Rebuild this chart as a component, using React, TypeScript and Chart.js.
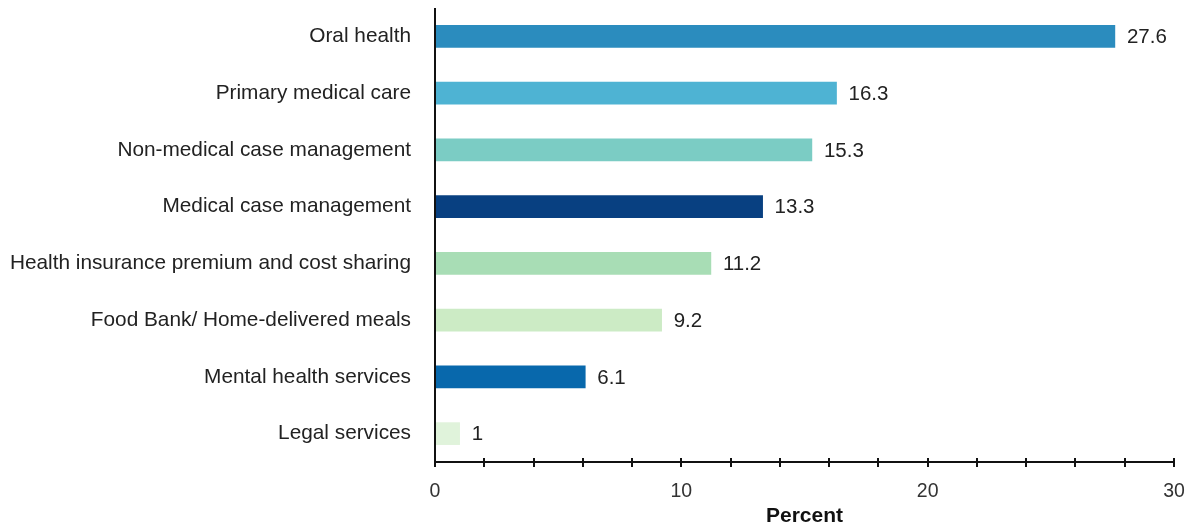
import React, { useEffect, useRef } from "react";
import { Chart, registerables } from "chart.js";

Chart.register(...registerables);

const categories = [
  "Oral health",
  "Primary medical care",
  "Non-medical case management",
  "Medical case management",
  "Health insurance premium and cost sharing",
  "Food Bank/ Home-delivered meals",
  "Mental health services",
  "Legal services",
];
const values = [27.6, 16.3, 15.3, 13.3, 11.2, 9.2, 6.1, 1];
const barColors = ["#2b8cbe", "#4eb3d3", "#7bccc4", "#084081", "#a8ddb5", "#ccebc5", "#0868ac", "#e0f3db"];
const xTickLabels = [0, 10, 20, 30];
const xAxisTitle = "Percent";

const FONT = "'Liberation Sans', Arial, sans-serif";

const valueLabelPlugin = {
  id: "valueLabels",
  afterDatasetsDraw(chart: any) {
    const ctx = chart.ctx;
    const meta = chart.getDatasetMeta(0);
    ctx.save();
    ctx.font = `20.5px ${FONT}`;
    ctx.fillStyle = "#222";
    ctx.textAlign = "left";
    ctx.textBaseline = "middle";
    meta.data.forEach((bar: any, i: number) => {
      ctx.fillText(String(values[i]), bar.x + 12, bar.y + 1);
    });
    ctx.restore();
  },
};

const axisPlugin = {
  id: "axisTicks",
  afterDraw(chart: any) {
    const ctx = chart.ctx;
    const xs = chart.scales.x;
    const area = chart.chartArea;
    ctx.save();
    ctx.strokeStyle = "#111";
    ctx.lineWidth = 2;
    ctx.beginPath();
    ctx.moveTo(area.left, area.top);
    ctx.lineTo(area.left, area.bottom);
    ctx.lineTo(area.right, area.bottom);
    ctx.stroke();
    xs.ticks.forEach((t: any) => {
      const px = Math.round(xs.getPixelForValue(t.value));
      ctx.beginPath();
      ctx.moveTo(px, area.bottom - 4);
      ctx.lineTo(px, area.bottom + 5);
      ctx.stroke();
    });
    ctx.restore();
  },
};

const zeroPad = (s: any) => {
  s.paddingTop = 0;
  s.paddingBottom = 0;
  s.paddingLeft = 0;
  s.paddingRight = 0;
};

export default function App() {
  const ref = useRef<HTMLCanvasElement | null>(null);
  useEffect(() => {
    if (!ref.current) return;
    const chart = new Chart(ref.current, {
      type: "bar",
      data: {
        labels: categories,
        datasets: [
          {
            data: values,
            backgroundColor: barColors,
            borderWidth: 0,
            barThickness: 22,
          },
        ],
      },
      options: {
        indexAxis: "y",
        animation: false,
        responsive: false,
        layout: { padding: { top: 8, right: 15, left: 0, bottom: 0 } },
        plugins: { legend: { display: false }, tooltip: { enabled: false } },
        scales: {
          x: {
            min: 0,
            max: 30,
            grid: { display: false, drawTicks: false },
            border: { display: false },
            ticks: {
              stepSize: 2,
              autoSkip: false,
              maxRotation: 0,
              padding: 18,
              color: "#333",
              font: { family: FONT, size: 19.5 },
              callback: (v: any) => (xTickLabels.includes(Number(v)) ? String(v) : ""),
            },
            title: {
              display: true,
              text: xAxisTitle,
              color: "#111",
              font: { family: FONT, size: 21, weight: "bold" },
              padding: { top: 5, bottom: -2 },
            },
            afterFit: (s: any) => {
              s.height = 65;
              zeroPad(s);
            },
          },
          y: {
            grid: { display: false, drawTicks: false },
            border: { display: false },
            ticks: {
              padding: 24,
              color: "#222",
              font: { family: FONT, size: 20.8 },
            },
            afterFit: (s: any) => {
              s.width = 435;
              zeroPad(s);
            },
          },
        },
      },
      plugins: [valueLabelPlugin, axisPlugin],
    });
    return () => chart.destroy();
  }, []);
  return (
    <div style={{ position: "fixed", left: 0, top: 0, width: 1189, height: 527, background: "#fff" }}>
      <canvas ref={ref} width={1189} height={527} />
    </div>
  );
}
